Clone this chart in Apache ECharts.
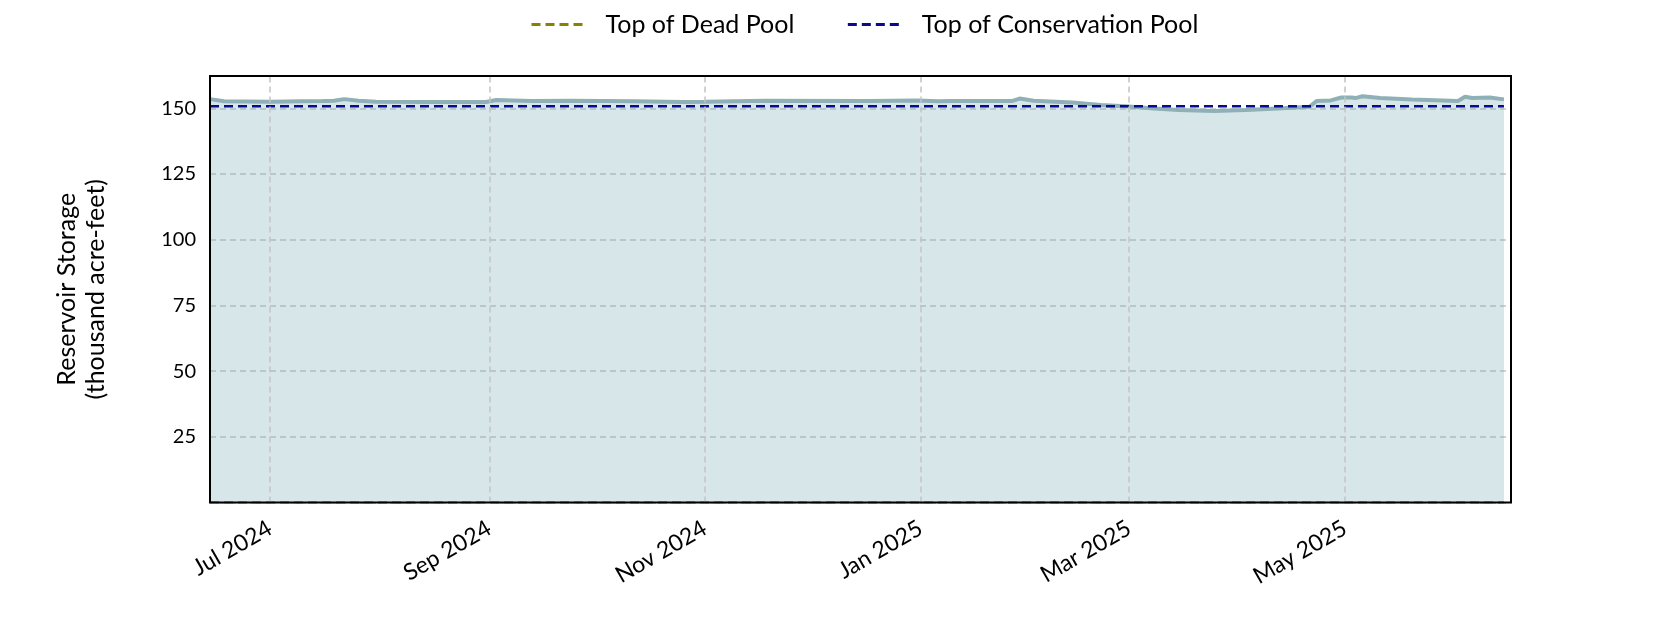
<!DOCTYPE html>
<html>
<head>
<meta charset="utf-8">
<script src="https://cdn.jsdelivr.net/npm/echarts@6/dist/echarts.min.js"></script>
<style>
html,body{margin:0;padding:0;background:#fff;}
#chart{width:1680px;height:630px;}
</style>
</head>
<body>
<div id="chart"></div>
<script>
const dates = ['2024-06-14','2024-06-18','2024-07-01','2024-07-10','2024-07-16','2024-07-19','2024-07-22','2024-07-26','2024-07-31','2024-08-17','2024-08-31','2024-09-03','2024-09-13','2024-09-24','2024-10-12','2024-10-26','2024-11-01','2024-11-18','2024-12-17','2024-12-31','2025-01-06','2025-01-10','2025-01-27','2025-01-29','2025-02-02','2025-02-13','2025-02-21','2025-02-28','2025-03-08','2025-03-15','2025-03-25','2025-04-03','2025-04-12','2025-04-21','2025-04-23','2025-04-27','2025-04-30','2025-05-03','2025-05-04','2025-05-06','2025-05-11','2025-05-20','2025-06-02','2025-06-04','2025-06-06','2025-06-11','2025-06-15'];
const storage = [153.5,152.7,152.5,152.7,152.8,152.9,153.5,152.9,152.5,152.4,152.4,153.2,152.8,152.9,152.7,152.4,152.5,152.9,152.8,153.0,152.7,152.8,152.8,153.7,152.9,152.2,151.3,150.8,149.9,149.4,149.0,149.4,149.9,150.6,152.8,153.0,154.1,154.1,153.9,154.6,153.9,153.4,152.8,154.4,153.9,154.1,153.4];
const deadPool = 0;
const conservationPool = 150.8;
const xTickDates = ['2024-07-01','2024-09-01','2024-11-01','2025-01-01','2025-03-01','2025-05-01'];
const xTickLabels = ['Jul 2024','Sep 2024','Nov 2024','Jan 2025','Mar 2025','May 2025'];
const yTicks = [25,50,75,100,125,150];
const xMin = '2024-06-14';
const xMax = '2025-06-17';

const FONT = 'Lato';
const toTs = s => { const p = s.split('-').map(Number); return Date.UTC(p[0], p[1]-1, p[2]); };
const tickTs = xTickDates.map(toTs);
const labelMap = {};
tickTs.forEach((t,i)=>{ labelMap[t] = xTickLabels[i]; });
const yLabelSet = new Set(yTicks);

const chart = echarts.init(document.getElementById('chart'), null, {renderer:'canvas'});
const firstTs = toTs(dates[0]), lastTs = toTs(dates[dates.length-1]);
chart.setOption({
  animation:false,
  textStyle:{fontFamily:FONT},
  legend:{
    top:7, left:525,
    itemWidth:54, itemHeight:14, itemGap:52,
    itemStyle:{opacity:0},
    lineStyle:{width:3},
    textStyle:{fontFamily:FONT, fontSize:25, color:'#000', padding:[0,0,0,15]},
    data:['Top of Dead Pool','Top of Conservation Pool']
  },
  grid:{left:210, right:169, top:76, bottom:127.5, show:true, z:10, borderColor:'#000', borderWidth:2, backgroundColor:'transparent'},
  xAxis:{
    type:'value', min:toTs(xMin), max:toTs(xMax),
    axisLine:{show:false}, axisTick:{show:false}, splitLine:{show:false},
    axisLabel:{
      customValues:tickTs, rotate:30, margin:24,
      fontFamily:FONT, fontSize:23, color:'#000',
      formatter:function(v){ return labelMap[v] || ''; }
    }
  },
  yAxis:{
    type:'value', min:0, max:162.3, interval:25,
    name:'Reservoir Storage\n(thousand acre-feet)', nameLocation:'middle', nameGap:100, nameRotate:90,
    nameTextStyle:{fontFamily:FONT, fontSize:25, color:'#000', lineHeight:29},
    axisLine:{show:false}, axisTick:{show:false},
    axisLabel:{margin:14, fontFamily:FONT, fontSize:20, color:'#000', showMaxLabel:false,
      formatter:function(v){ return yLabelSet.has(v) ? String(v) : ''; }},
    splitLine:{show:true, lineStyle:{color:'#c4c4c4', width:1.5, type:[6,4]}}
  },
  series:[
    {
      name:'Top of Dead Pool', type:'line', z:-1, showSymbol:false, symbol:'none',
      data:[[firstTs,deadPool],[lastTs,deadPool]],
      lineStyle:{color:'#8b8000', width:2.5, type:[9,5]}, itemStyle:{color:'#8b8000'},
      markLine:{silent:true, symbol:['none','none'], label:{show:false},
        lineStyle:{color:'#c4c4c4', width:1.5, type:[6,4]},
        data:tickTs.map(t=>({xAxis:t}))}
    },
    {
      name:'Storage', type:'line', z:2, showSymbol:false, symbol:'none',
      data:dates.map((d,i)=>[toTs(d),storage[i]]),
      lineStyle:{color:'#8fb0b6', width:4}, itemStyle:{color:'#8fb0b6'},
      areaStyle:{color:'rgba(125,175,185,0.31)', opacity:1, origin:'start'}
    },
    {
      name:'Top of Conservation Pool', type:'line', z:3, showSymbol:false, symbol:'none',
      data:[[firstTs,conservationPool],[lastTs,conservationPool]],
      lineStyle:{color:'#0a0a8c', width:2.5, type:[9,5]}, itemStyle:{color:'#0a0a8c'}
    }
  ]
});
</script>
</body>
</html>
